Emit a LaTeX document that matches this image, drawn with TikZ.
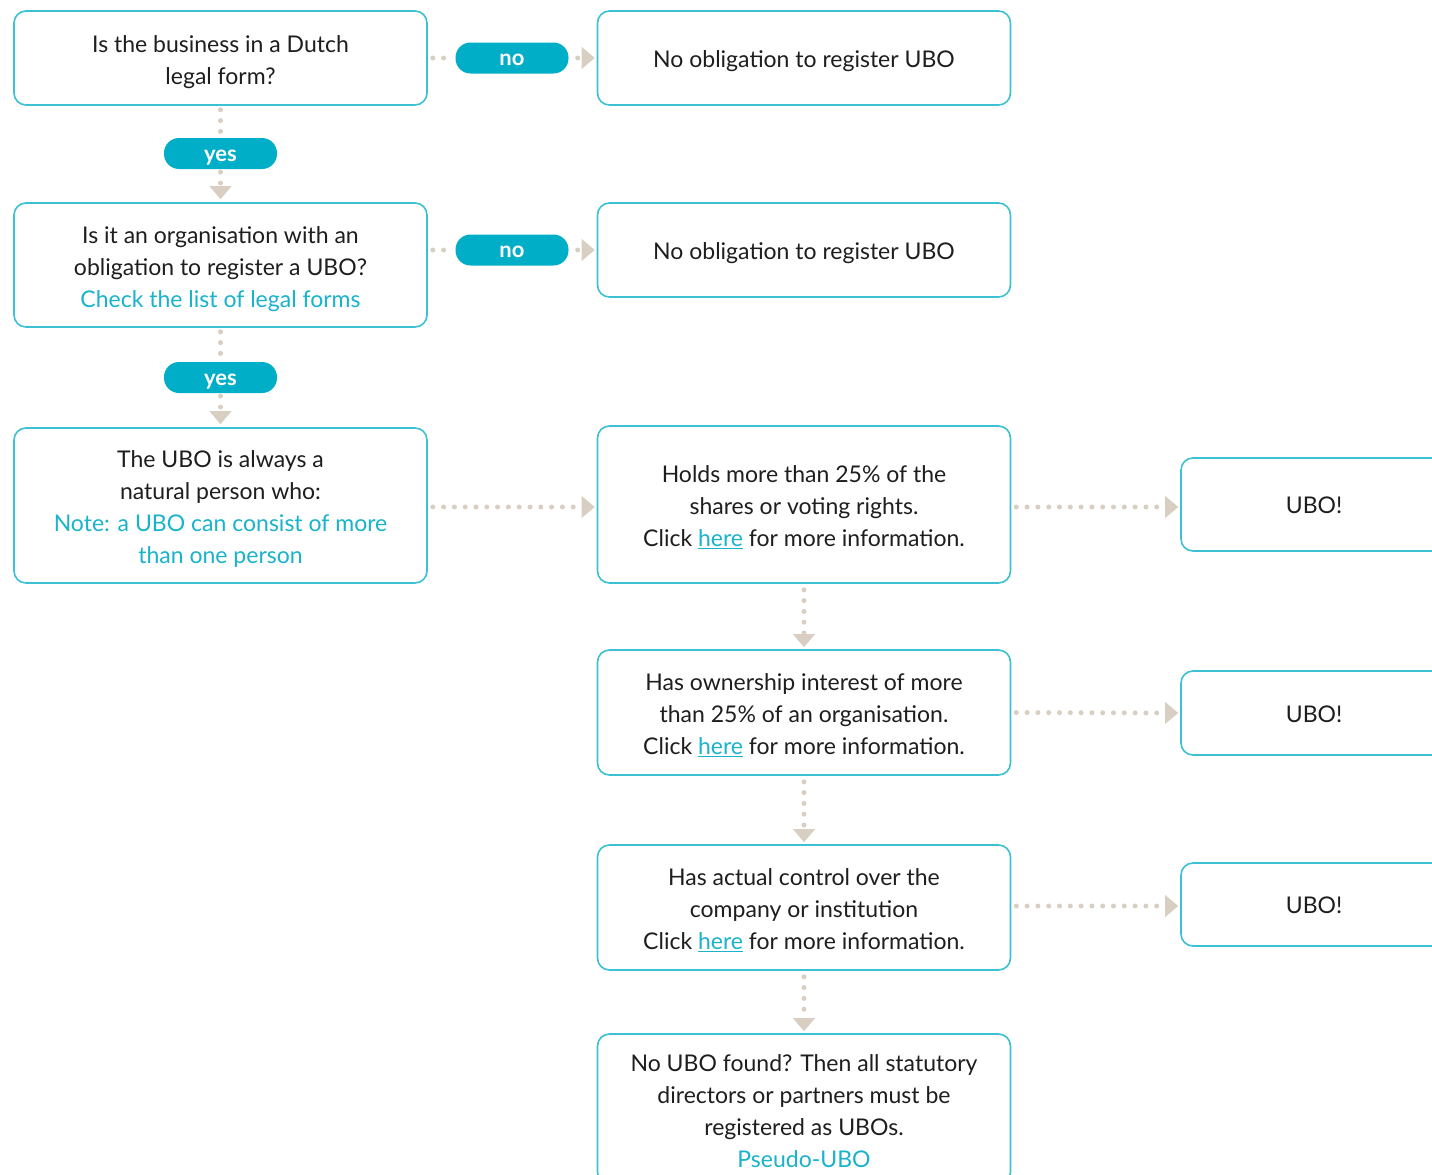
\documentclass[tikz,border=0pt]{standalone}
\usepackage{fontspec}
\setmainfont{Lato}
\usepackage{xcolor}
\usetikzlibrary{arrows.meta,positioning}

\definecolor{uboteal}{HTML}{3CC0D4}
\definecolor{ubopill}{HTML}{00AEC8}
\definecolor{ubolink}{HTML}{19B3CB}
\definecolor{ubodot}{HTML}{D8CEC2}
\definecolor{ubotext}{HTML}{1E1E1E}
\newcommand{\herelink}{\textcolor{ubolink}{\underline{here}}}
\newcommand{\tealtext}[1]{\textcolor{ubolink}{#1}}

\begin{document}
\begin{tikzpicture}[
  x=1pt, y=-1pt,
  box/.style={draw=uboteal, line width=1.6pt, rounded corners=12pt, align=center, fill=white, minimum width=413pt, inner sep=4pt, text=ubotext, font=\fontsize{23}{32}\selectfont, text height=25pt, text depth=7pt},
  twolines/.style={box, text height=59pt},
  threelines/.style={box, text height=91pt},
  fourlines/.style={box, text height=123pt},
  ubobox/.style={box, minimum width=266pt},
  pill/.style={fill=ubopill, rounded corners=15pt, minimum width=113pt, minimum height=31pt, inner sep=0pt, text height=15pt, text depth=0pt, text=white, font=\fontsize{22}{24}\selectfont\bfseries},
  dots/.style={ubodot, line width=5pt, line cap=round, dash pattern=on 0pt off 10.8pt},
  flow/.style={dots, -{Triangle[length=13pt, width=22pt, line width=0pt]}}
]
\useasboundingbox (0,0) rectangle (1432,1175);
\clip (0,0) rectangle (1432,1175);

% left column
\node[twolines, minimum height=94pt] (dutch) at (220.5,58) {Is the business in a Dutch\\legal form?};
\node[pill] (yes1) at (220.5,153.5) {yes};
\node[threelines, minimum height=124pt] (oblig) at (220.5,265) {Is it an organisation with an\\obligation to register a UBO?\\\tealtext{Check the list of legal forms}};
\node[pill] (yes2) at (220.5,377.5) {yes};
\node[fourlines, minimum height=155pt] (natural) at (220.5,505.5) {The UBO is always a\\natural person who:\\\tealtext{Note: a UBO can consist of more}\\\tealtext{than one person}};

% no branches
\node[pill] (no1) at (512,58) {no};
\node[box, minimum height=94pt] (noreg1) at (804,58) {No obligation to register UBO};
\node[pill] (no2) at (512,250) {no};
\node[box, minimum height=94pt] (noreg2) at (804,250) {No obligation to register UBO};

% criteria
\node[threelines, minimum height=157pt] (shares) at (804,504.5) {Holds more than 25\% of the\\shares or voting rights.\\Click \herelink{} for more information.};
\node[threelines, minimum height=125pt] (owner) at (804,712.5) {Has ownership interest of more\\than 25\% of an organisation.\\Click \herelink{} for more information.};
\node[threelines, minimum height=125pt] (control) at (804,907.5) {Has actual control over the\\company or institution\\Click \herelink{} for more information.};
\node[fourlines, minimum height=150pt] (pseudo) at (804,1109) {No UBO found? Then all statutory\\directors or partners must be\\registered as UBOs.\\\tealtext{Pseudo-UBO}};

% results
\node[ubobox, minimum height=93pt] (ubo1) at (1314,504.5) {UBO!};
\node[ubobox, minimum height=84pt] (ubo2) at (1314,713) {UBO!};
\node[ubobox, minimum height=83pt] (ubo3) at (1314,904.5) {UBO!};

% connectors
\draw[dots, shorten <=5pt, shorten >=2pt] (dutch.east) -- (no1.west);
\draw[flow, shorten <=9pt, shorten >=2pt] (no1.east) -- (noreg1.west);
\draw[dots, shorten <=5pt, shorten >=2pt] (no2 -| oblig.east) -- (no2.west);
\draw[flow, shorten <=9pt, shorten >=2pt] (no2.east) -- (noreg2.west);
\draw[dots, shorten <=4pt, shorten >=2pt] (dutch.south) -- (yes1.north);
\draw[flow, shorten <=3pt, shorten >=3pt] (yes1.south) -- (oblig.north);
\draw[dots, shorten <=4pt, shorten >=2pt] (oblig.south) -- (yes2.north);
\draw[flow, shorten <=3pt, shorten >=3pt] (yes2.south) -- (natural.north);
\draw[flow, shorten <=5pt, shorten >=2pt] (natural.east |- 0,507) -- (shares.west |- 0,507);
\draw[flow, shorten <=5pt, shorten >=2pt] (shares.east |- 0,507) -- (ubo1.west |- 0,507);
\draw[flow, shorten <=5pt, shorten >=2pt] (owner.east) -- (ubo2.west);
\draw[flow, shorten <=5pt, shorten >=2pt] (control.east |- 0,906) -- (ubo3.west |- 0,906);
\draw[flow, shorten <=6pt, shorten >=2pt] (shares.south) -- (owner.north);
\draw[flow, shorten <=6pt, shorten >=2pt] (owner.south) -- (control.north);
\draw[flow, shorten <=6pt, shorten >=2pt] (control.south) -- (pseudo.north);
\end{tikzpicture}
\end{document}
